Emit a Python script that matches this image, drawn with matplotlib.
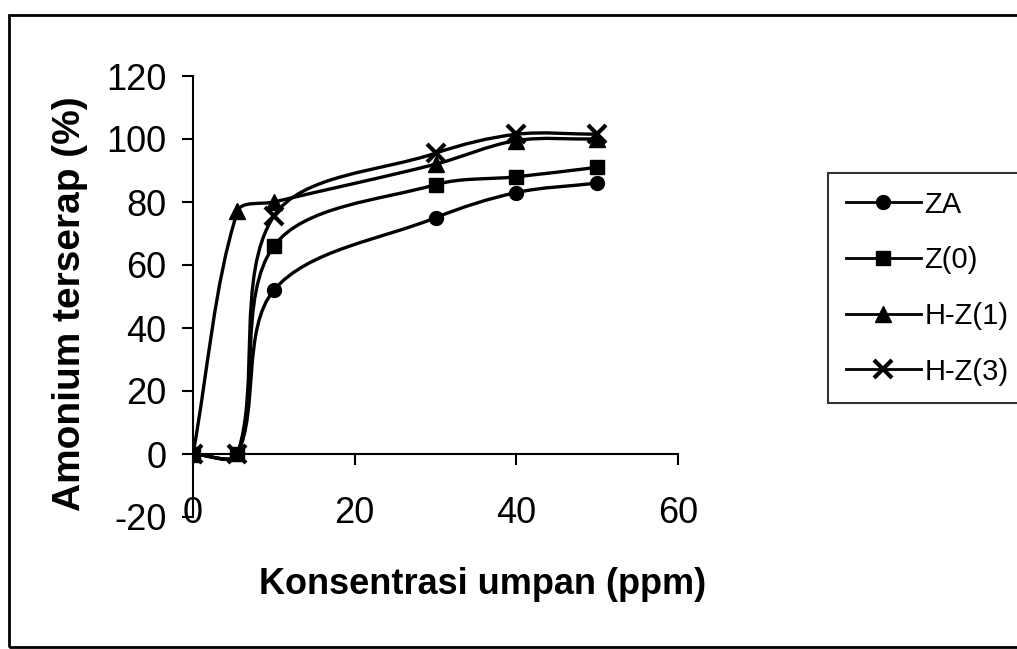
import numpy as np
import matplotlib
matplotlib.use("Agg")
import matplotlib.pyplot as plt
from matplotlib.path import Path
from matplotlib.patches import PathPatch, Rectangle
from matplotlib.lines import Line2D

plt.rcParams['font.family'] = ['Liberation Sans Narrow', 'Liberation Sans', 'DejaVu Sans']
plt.rcParams['axes.unicode_minus'] = False

# data
konsentrasi = [0, 5.5, 10, 30, 40, 50]
za = [0, 0, 52, 75, 83, 86]
z0 = [0, 0, 66, 85.5, 88, 91]
hz1 = [0, 77, 80, 92, 99.5, 100]
hz3 = [0, 0, 75.5, 95.5, 101.5, 101.5]

series = [("ZA", za, "o", 10), ("Z(0)", z0, "s", 10), ("H-Z(1)", hz1, "^", 12), ("H-Z(3)", hz3, "x", 13)]


def smooth_path(xs, ys, sx=8.1, sy=3.15):
    # bezier smoothing similar to the spreadsheet "smoothed line" option
    p = np.column_stack([xs, ys]).astype(float)
    n = len(p)
    ext = np.vstack([p[0], p, p[-1]])
    verts = [p[0]]
    codes = [Path.MOVETO]

    def dist(a, b):
        return np.hypot((a[0] - b[0]) * sx, (a[1] - b[1]) * sy)

    for i in range(n - 1):
        p0, p1, p2, p3 = ext[i], ext[i + 1], ext[i + 2], ext[i + 3]
        d01, d12, d23 = dist(p0, p1), dist(p1, p2), dist(p2, p3)
        r1 = d12 / (d01 + d12) if d01 + d12 > 0 else 0.5
        r2 = d12 / (d12 + d23) if d12 + d23 > 0 else 0.5
        c1 = p1 + (p2 - p0) * r1 / 3
        c2 = p2 - (p3 - p1) * r2 / 3
        verts += [c1, c2, p2]
        codes += [Path.CURVE4] * 3
    return Path(verts, codes)


fig = plt.figure(figsize=(10.17, 6.49), dpi=100)
ax = fig.add_axes([193 / 1017, 1 - 517 / 649, 485 / 1017, 441 / 649])

handles = []
for name, vals, mk, ms in series:
    ax.add_patch(PathPatch(smooth_path(konsentrasi, vals), fill=False, edgecolor="black", lw=2.4, zorder=3))
    mew = 3 if mk == "x" else 1
    ax.plot(konsentrasi, vals, linestyle="none", marker=mk, markersize=ms, color="black", mew=mew, zorder=4)
    handles.append(Line2D([], [], color="black", lw=2, marker=mk, markersize=ms, mew=mew))

ax.set_xlim(0, 60)
ax.set_ylim(-20, 120)
ax.set_xticks(np.arange(0, 61, 20))
ax.set_yticks(np.arange(-20, 121, 20))
ax.spines["top"].set_visible(False)
ax.spines["right"].set_visible(False)
ax.spines["bottom"].set_position(("data", 0))
for s in ("left", "bottom"):
    ax.spines[s].set_linewidth(1.5)
ax.tick_params(axis="y", direction="out", length=8, width=1.5, pad=11, labelsize=26)
ax.tick_params(axis="x", direction="out", length=8, width=1.5, pad=22, labelsize=26)

ax.set_xlabel("Konsentrasi umpan (ppm)", fontsize=26, fontweight="bold", family=["Liberation Sans", "DejaVu Sans"])
ax.set_ylabel("Amonium terserap (%)", fontsize=28, fontweight="bold", family=["Liberation Sans", "DejaVu Sans"])
ax.xaxis.set_label_coords(0.598, -0.154)
ax.xaxis.label.set_verticalalignment("center")
ax.yaxis.set_label_coords(-0.253, 0.483)
ax.yaxis.label.set_verticalalignment("center")

leg = fig.legend(handles, [s[0] for s in series], loc="upper left",
                 bbox_to_anchor=(828 / 1017, 1 - 173 / 649), fontsize=21, frameon=True,
                 fancybox=False, edgecolor="black", handlelength=2.6, handletextpad=0.1,
                 labelspacing=0.95, borderpad=0.6, borderaxespad=0)
leg.get_frame().set_linewidth(1.5)

# outer border of the chart area
fig.patches.append(Rectangle((9 / 1017, 2 / 649), 1.1, 1 - 17 / 649, transform=fig.transFigure,
                             fill=False, edgecolor="black", lw=2, clip_on=False))

fig.savefig("out.png", dpi=100)
